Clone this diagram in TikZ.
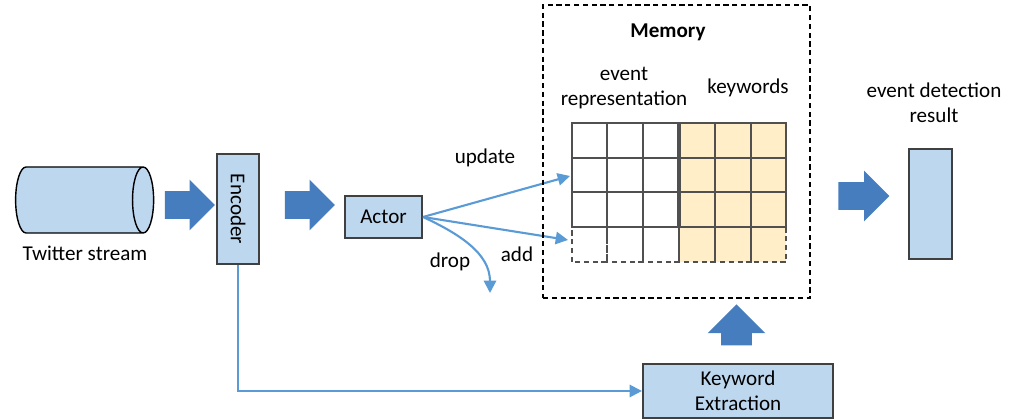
\documentclass[tikz,border=0pt]{standalone}
\usepackage{fontspec}
\setmainfont{Carlito}
\usetikzlibrary{shapes.geometric,shapes.arrows,arrows.meta}
\definecolor{boxblue}{RGB}{189,215,238}
\definecolor{boxline}{RGB}{64,64,64}
\definecolor{arrowblue}{RGB}{70,125,190}
\definecolor{lineblue}{RGB}{91,155,213}
\definecolor{keyorange}{RGB}{255,238,200}
\definecolor{gridgray}{RGB}{80,80,80}

\begin{document}
\begin{tikzpicture}[font=\fontsize{12}{14}\selectfont,
  box/.style = {draw=boxline, fill=boxblue, line width=1.2pt},
  bigarrow/.style = {single arrow, fill=arrowblue, draw=none, inner xsep=0pt, inner ysep=0.27cm, minimum width=1.0cm, single arrow head extend=0.23cm, single arrow head indent=0pt},
  link/.style = {draw=lineblue, line width=1.2pt, -{Triangle[length=7pt,width=7pt]}},
  cell/.style = {draw=gridgray, line width=1.3pt},
  newcell/.style = {draw=gridgray, line width=1.1pt, densely dashed}]
\useasboundingbox (0,0) rectangle (20.22,8.38);
% input side
\node[cylinder, draw=black, fill=boxblue, thick, minimum width=1.32cm, minimum height=2.76cm, aspect=1.8](stream) at (1.52,4.38) {};
\node(streamlabel) at (1.70,3.32) {Twitter stream};
\node[bigarrow, minimum height=1.0cm](a1) at (3.66,4.28) {};
\node[box, minimum width=2.2cm, minimum height=0.84cm, rotate=-90](enc) at (4.76,4.20) {Encoder};
\node[bigarrow, minimum height=1.0cm](a2) at (6.06,4.28) {};
\node[box, minimum width=1.54cm, minimum height=0.84cm](actor) at (7.67,4.04) {Actor};
% actor decisions
\coordinate(upd) at (11.40,4.86); \coordinate(addend) at (11.36,3.58); \coordinate(dropend) at (9.80,2.52);
\draw[link] (actor.east) -- (upd); \draw[link] (actor.east) -- (addend);
\draw[link] (actor.east) to[out=-25,in=90] (dropend);
\node(updlabel) at (9.70,5.22) {update}; \node(addlabel) at (10.34,3.30) {add}; \node(droplabel) at (9.00,3.14) {drop};
% memory
\node[draw=black, line width=1.2pt, densely dashed, minimum width=5.34cm, minimum height=5.86cm](mem) at (13.53,5.35) {};
\node(memlabel) at (13.36,7.74) {\bfseries Memory};
\node[align=center](replabel) at (12.48,6.62) {event\\representation};
\node(kwlabel) at (14.96,6.62) {keywords};
\fill[keyorange] (13.58,3.14) rectangle (15.72,5.92);
\draw[cell] (11.44,5.22) rectangle (12.14,5.92); \draw[cell] (12.14,5.22) rectangle (12.86,5.92); \draw[cell] (12.86,5.22) rectangle (13.58,5.92); \draw[cell] (13.58,5.22) rectangle (14.30,5.92); \draw[cell] (14.30,5.22) rectangle (15.02,5.92); \draw[cell] (15.02,5.22) rectangle (15.72,5.92);
\draw[cell] (11.44,4.54) rectangle (12.14,5.22); \draw[cell] (12.14,4.54) rectangle (12.86,5.22); \draw[cell] (12.86,4.54) rectangle (13.58,5.22); \draw[cell] (13.58,4.54) rectangle (14.30,5.22); \draw[cell] (14.30,4.54) rectangle (15.02,5.22); \draw[cell] (15.02,4.54) rectangle (15.72,5.22);
\draw[cell] (11.44,3.84) rectangle (12.14,4.54); \draw[cell] (12.14,3.84) rectangle (12.86,4.54); \draw[cell] (12.86,3.84) rectangle (13.58,4.54); \draw[cell] (13.58,3.84) rectangle (14.30,4.54); \draw[cell] (14.30,3.84) rectangle (15.02,4.54); \draw[cell] (15.02,3.84) rectangle (15.72,4.54);
\draw[newcell] (11.44,3.14) rectangle (12.14,3.84); \draw[newcell] (12.14,3.14) rectangle (12.86,3.84); \draw[newcell] (12.86,3.14) rectangle (13.58,3.84); \draw[newcell] (13.58,3.14) rectangle (14.30,3.84); \draw[newcell] (14.30,3.14) rectangle (15.02,3.84); \draw[newcell] (15.02,3.14) rectangle (15.72,3.84);
\draw[gridgray, line width=2.2pt] (13.58,3.84) -- (13.58,5.92);
% output side
\node[bigarrow, minimum height=1.02cm](a3) at (17.14,4.46) {};
\node[box, minimum width=0.86cm, minimum height=2.2cm](result) at (18.61,4.30) {};
\node[align=center](reslabel) at (18.68,6.32) {event detection\\result};
% keyword path
\node[box, minimum width=3.8cm, minimum height=1.08cm, align=center, inner sep=1pt](kw) at (14.76,0.56) {Keyword\\Extraction};
\node[bigarrow, minimum height=0.82cm, minimum width=1.14cm, inner xsep=0.3cm, inner ysep=0pt, single arrow head extend=0.27cm, shape border rotate=90](a4) at (14.73,1.73) {};
\draw[link] (enc.east) |- (kw.west);
\end{tikzpicture}
\end{document}
